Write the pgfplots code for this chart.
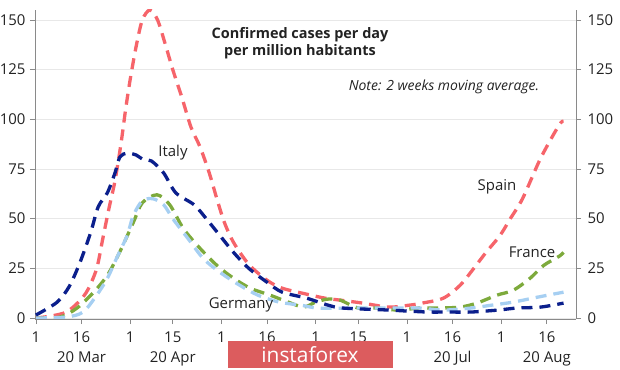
\documentclass[border=0pt]{standalone}
\usepackage{pgfplots}
\pgfplotsset{compat=1.18}
\usepackage{fontspec}
\setmainfont{Open Sans}
\definecolor{spain}{HTML}{F6646A}
\definecolor{italy}{HTML}{0B1F8C}
\definecolor{germany}{HTML}{A6CFF2}
\definecolor{france}{HTML}{7DAA3C}
\definecolor{gridc}{HTML}{E8E8E8}
\definecolor{axc}{HTML}{8A8A8A}
\definecolor{wm}{HTML}{DC5C5E}
\definecolor{txt}{HTML}{222222}
\begin{document}
\begin{tikzpicture}[x=1bp,y=1bp]
\path[use as bounding box] (0bp,0bp) rectangle (620bp,370bp);
\pgfplotsset{
  common/.style={
    at={(35bp,51bp)}, anchor=south west, scale only axis,
    width=541bp, height=309bp,
    xmin=-0.3, xmax=177.6, ymin=-0.5, ymax=155,
    ytick={0,25,50,75,100,125,150},
    tick align=outside, major tick length=5bp,
    tick style={axc, line width=0.8pt},
    axis line style={axc, line width=0.9pt},
    /pgf/number format/assume math mode=true,
    tick label style={font=\fontsize{15}{20}\selectfont, text=txt},
  }
}
\begin{axis}[common,
  axis x line*=bottom, axis y line*=left,
  ymajorgrids, grid style={gridc, line width=0.8pt},
  xtick={0,15,31,45,61,76,92,106,122,137,153,168},
  xticklabels={1,{16\\20 Mar},1,{15\\20 Apr},1,16,1,15,1,{16\\20 Jul},1,{16\\20 Aug}},
  xticklabel style={align=center, anchor=north, yshift=-4.5bp},
  yticklabel style={xshift=-1bp},
  every axis plot/.append style={line width=3.3bp, dash pattern=on 11bp off 7bp, smooth, tension=0.5},
]
% Spain
\addplot[spain] coordinates {(0,0) (5,1) (10,3) (14,8) (17,14) (20,25) (22,40) (24,55) (26,69) (28,88) (29.5,105) (31,120) (33,137) (35,150) (37.5,155) (40,150) (42.5,138) (45,125) (48,111) (51,96) (54,86) (57,73) (59.5,60) (62,48) (65,38) (70,27) (76,19) (81,15) (89,12) (95,10) (100,9) (107.5,7.5) (116,5.5) (123,6.5) (127,7.5) (134,10) (139.5,16.5) (144,25) (148,33) (152.6,41.5) (156,50) (160,60) (166,80.5) (172,97) (173.5,99)};
% France
\addplot[france] coordinates {(0,0) (8,0.5) (13.5,5) (19,13) (23.5,21.5) (27.5,33) (32,48) (35,58) (39.8,62) (44,57) (48.5,45) (54,35) (59.5,26.5) (65,20) (70.5,15) (77,11.5) (83,8) (88,5.5) (92,8) (96,9.5) (100,9) (106,5) (112,5) (119,4) (126,5) (132,5) (139.5,5.5) (145,7.5) (151.6,11.5) (157,14) (162.5,20) (167,26.5) (172,31) (173.5,33)};
% Germany
\addplot[germany] coordinates {(0,0) (10,0.5) (15.5,3) (20,11.5) (23.5,20) (26.5,30) (30,41.5) (32,51.5) (35,59) (38.5,60) (42,57) (45,50) (50,40) (55,30) (60.5,23) (67,16.5) (73,11.5) (80,8) (87,6.5) (93,5) (106,5) (117,5) (126,5) (134,4) (143,5) (150,6.5) (157,8) (165,10.5) (173.5,13)};
% Italy
\addplot[italy] coordinates {(0,1.5) (7,8) (11,16) (14.5,28) (18,43) (20.5,56) (23.5,63) (26,73) (27.6,81) (30,83) (33,82) (35,80) (38,79) (42,73) (46,63) (52,57) (56,50) (60.5,41.5) (65,33) (70,25) (76,18) (81,13) (89,10) (96,6.5) (101,5) (116,4) (122,3.5) (129,3) (136,3) (143,3) (152,4) (158,5) (166,5.5) (173.5,7.5)};
\end{axis}
\begin{axis}[common,
  axis x line=none, axis y line*=right,
  xtick=\empty,
  yticklabel style={xshift=3bp},
]
\end{axis}
\node[font=\bfseries\fontsize{14.5}{17.5}\selectfont, align=center, text=txt] at (300bp,327bp) {Confirmed cases per day\\per million habitants};
\node[font=\itshape\fontsize{14}{16}\selectfont, text=txt] at (444bp,283bp) {Note: 2 weeks moving average.};
\node[font=\fontsize{15}{17}\selectfont, text=txt] at (173bp,217bp) {Italy};
\node[font=\fontsize{15}{17}\selectfont, text=txt] at (497bp,183bp) {Spain};
\node[font=\fontsize{15}{17}\selectfont, text=txt] at (532bp,118bp) {France};
\node[font=\fontsize{15}{17}\selectfont, text=txt] at (241bp,65bp) {Germany};
\fill[wm] (228bp,2bp) rectangle (393bp,29bp);
\node[font=\fontsize{21}{23}\selectfont, text=white] at (310bp,15.5bp) {instaforex};
\end{tikzpicture}
\end{document}
